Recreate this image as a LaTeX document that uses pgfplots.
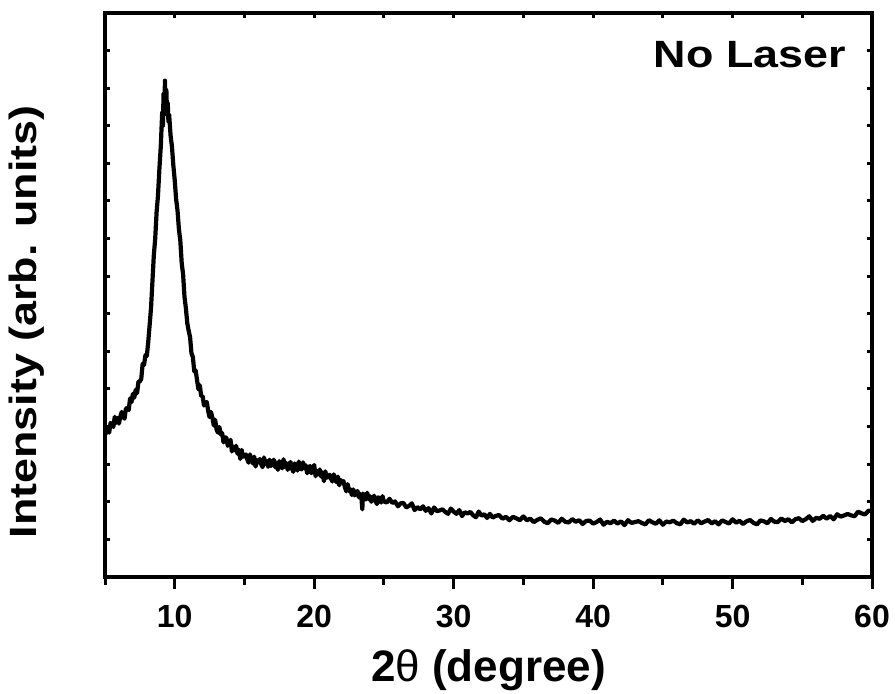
\documentclass[border=0pt]{standalone}
\usepackage{fontspec}
\setmainfont{Liberation Sans}
\newfontfamily\widefont[FakeStretch=1.18]{Liberation Sans}
\usepackage{pgfplots}
\pgfplotsset{compat=1.18}

\begin{document}
\begin{tikzpicture}
% 1px of the reference = 0.5pt
\pgfplotsset{
  xrdframe/.style={
    width=383.5pt, height=282pt, scale only axis,
    xmin=5, xmax=60, ymin=0, ymax=15,
    axis line style={line width=1.9pt, line cap=rect},
    every tick/.style={black, line width=1.5pt},
  }
}
% bottom ticks (outside) with labels, data
\begin{axis}[xrdframe,
    xtick={10,20,...,60}, minor xtick={5,15,...,55},
    xtick pos=left, tick align=outside,
    major tick length=6pt, minor tick length=4pt,
    ytick=\empty,
    /pgf/number format/assume math mode=true,
    xticklabel style={font=\fontsize{16}{16}\selectfont\bfseries, anchor=base, yshift=-19pt},
    xlabel={\fontsize{22}{22}\selectfont\bfseries 2{\mdseries θ} (degree)},
    xlabel style={at={(rel axis cs:0.5,-0.186)}, anchor=base},
    ylabel={\widefont\fontsize{19}{19}\selectfont\bfseries Intensity (arb. units)},
    every axis y label/.style={at={(rel axis cs:-0.0887,0.452)}, rotate=90, anchor=base},
  ]
\addplot[black, line width=2.1pt, line join=round] coordinates {
(5.0,3.97) (5.1,3.82) (5.2,3.97) (5.3,3.84) (5.4,4.10) (5.5,4.05) (5.6,3.99) (5.7,4.26) (5.8,4.10) (5.9,4.23)
(6.0,4.08) (6.1,4.27) (6.2,4.39) (6.3,4.26) (6.4,4.21) (6.5,4.48) (6.6,4.49) (6.7,4.44) (6.8,4.75) (6.9,4.65)
(7.0,4.87) (7.1,4.77) (7.2,4.98) (7.3,4.89) (7.4,5.20) (7.5,5.20) (7.6,5.27) (7.7,5.67) (7.8,5.64) (7.9,5.90)
(8.0,5.88) (8.1,6.25) (8.2,6.70) (8.3,7.15) (8.4,7.85) (8.5,8.55) (8.6,9.00) (8.7,9.70) (8.8,10.15) (8.9,10.85)
(9.0,11.45) (9.1,12.35) (9.15,12.0) (9.2,12.85) (9.25,12.3) (9.3,13.2) (9.35,12.4) (9.4,12.95) (9.45,12.3) (9.5,12.6)
(9.55,12.1) (9.6,12.3) (9.7,11.75) (9.8,11.45) (9.9,10.95) (10.0,10.55) (10.1,10.05) (10.2,9.75) (10.3,9.25) (10.4,8.95)
(10.5,8.35) (10.6,8.05) (10.7,7.45) (10.8,7.15) (10.9,6.75) (11.0,6.55)
(11.1,6.38) (11.2,5.95) (11.3,5.85) (11.4,5.47) (11.5,5.49) (11.6,5.24) (11.7,4.99) (11.8,5.10) (11.9,4.81) (12.0,4.81)
(12.1,4.56) (12.2,4.64) (12.3,4.65) (12.4,4.41) (12.5,4.25) (12.6,4.39) (12.7,4.24) (12.8,4.03) (12.9,4.18) (13.0,3.92)
(13.1,3.84) (13.2,3.99) (13.3,3.79) (13.4,3.83) (13.5,3.58) (13.6,3.71) (13.7,3.71) (13.8,3.49) (13.9,3.54) (14.0,3.65)
(14.1,3.34) (14.2,3.47) (14.3,3.37) (14.4,3.49) (14.5,3.28) (14.6,3.38) (14.7,3.14) (14.8,3.38) (14.9,3.20) (15.0,3.22)
(15.1,3.26) (15.2,3.13) (15.3,3.04) (15.4,3.26) (15.5,3.12) (15.6,3.02) (15.7,3.20) (15.8,2.94) (15.9,3.11) (16.0,3.05)
(16.1,3.14) (16.2,3.00) (16.3,2.92) (16.4,3.18) (16.5,3.01) (16.6,3.08) (16.7,2.93) (16.8,3.12) (16.9,2.95) (17.0,3.03)
(17.1,3.12) (17.2,2.92) (17.3,3.04) (17.4,2.85) (17.5,3.08) (17.6,2.98) (17.7,2.89) (17.8,3.13) (17.9,2.93) (18.0,3.03)
(18.1,2.85) (18.2,2.99) (18.3,3.06) (18.4,2.89) (18.5,2.80) (18.6,3.02) (18.7,2.96) (18.8,2.83) (18.9,3.07) (19.0,2.90)
(19.1,2.86) (19.2,3.05) (19.3,2.89) (19.4,2.97) (19.5,2.76) (19.6,2.92) (19.7,2.95) (19.8,2.76) (19.9,2.84) (20.0,2.98)
(20.1,2.68) (20.2,2.82) (20.3,2.73) (20.4,2.86) (20.5,2.67) (20.6,2.78) (20.7,2.55) (20.8,2.81) (20.9,2.64) (21.0,2.67)
(21.1,2.72) (21.2,2.62) (21.3,2.54) (21.4,2.73) (21.5,2.61) (21.6,2.52) (21.7,2.67) (21.8,2.44) (21.9,2.58) (22.0,2.52)
(22.1,2.55) (22.2,2.39) (22.3,2.28) (22.4,2.47) (22.5,2.29) (22.6,2.33) (22.7,2.18) (22.8,2.33) (22.9,2.17) (23.0,2.23)
(23.1,2.29) (23.2,2.12) (23.3,2.21) (23.4,2.05) (23.45,1.80) (23.5,2.22) (23.6,2.14) (23.7,2.06) (23.8,2.24) (23.9,2.07) (24.0,2.15)
(24.1,2.00) (24.2,2.11) (24.3,2.16) (24.4,2.02) (24.5,1.94) (24.6,2.12) (24.7,2.07) (24.8,1.98) (24.9,2.15) (25.0,2.01)
(25.2,1.98) (25.4,2.08) (25.6,1.97) (25.8,2.01) (26.0,1.88) (26.2,1.96) (26.4,1.97) (26.6,1.85) (26.8,1.89) (27.0,1.96)
(27.2,1.78) (27.4,1.86) (27.6,1.80) (27.8,1.88) (28.0,1.76) (28.2,1.83) (28.4,1.69) (28.6,1.85) (28.8,1.75) (29.0,1.77)
(29.2,1.80) (29.4,1.73) (29.6,1.68) (29.8,1.82) (30.0,1.74) (30.2,1.68) (30.4,1.78) (30.6,1.62) (30.8,1.72) (31.0,1.69)
(31.2,1.73) (31.4,1.64) (31.6,1.59) (31.8,1.74) (32.0,1.63) (32.2,1.67) (32.4,1.57) (32.6,1.68) (32.8,1.58) (33.0,1.62)
(33.25,1.65) (33.5,1.55) (33.75,1.60) (34.0,1.51) (34.25,1.60) (34.5,1.56) (34.75,1.51) (35.0,1.61) (35.25,1.51) (35.5,1.55)
(35.75,1.46) (36.0,1.52) (36.25,1.56) (36.5,1.47) (36.75,1.43) (37.0,1.53) (37.25,1.50) (37.5,1.44) (37.75,1.55) (38.0,1.47)
(38.25,1.45) (38.5,1.54) (38.75,1.47) (39.0,1.51) (39.25,1.41) (39.5,1.49) (39.75,1.50) (40.0,1.42) (40.25,1.46) (40.5,1.53)
(40.75,1.39) (41.0,1.47) (41.25,1.43) (41.5,1.50) (41.75,1.42) (42.0,1.48) (42.25,1.38) (42.5,1.51) (42.75,1.44) (43.0,1.46)
(43.25,1.485) (43.5,1.436) (43.75,1.40) (44.0,1.51) (44.25,1.457) (44.5,1.416) (44.75,1.507) (45.0,1.39) (45.25,1.475) (45.5,1.455)
(45.75,1.498) (46.0,1.434) (46.25,1.40) (46.5,1.526) (46.75,1.45) (47.0,1.485) (47.25,1.415) (47.5,1.507) (47.75,1.43) (48.0,1.474)
(48.25,1.516) (48.5,1.426) (48.75,1.483) (49.0,1.40) (49.25,1.505) (49.5,1.464) (49.75,1.423) (50.0,1.535) (50.25,1.445) (50.5,1.494)
(50.75,1.411) (51.0,1.481) (51.25,1.517) (51.5,1.441) (51.75,1.40) (52.0,1.505) (52.25,1.481) (52.5,1.429) (52.75,1.544) (53.0,1.471)
(53.25,1.461) (53.5,1.556) (53.75,1.489) (54.0,1.535) (54.25,1.452) (54.5,1.536) (54.75,1.565) (55.0,1.488) (55.25,1.538) (55.5,1.615)
(55.75,1.49) (56.0,1.574) (56.25,1.548) (56.5,1.627) (56.75,1.551) (57.0,1.623) (57.25,1.534) (57.5,1.669) (57.75,1.607) (58.0,1.637)
(58.25,1.676) (58.5,1.639) (58.75,1.615) (59.0,1.738) (59.25,1.693) (59.5,1.663) (59.75,1.765) (60.0,1.76)
};
\node[anchor=base east, font=\widefont\fontsize{19}{19}\selectfont\bfseries] at (rel axis cs:0.975,0.904) {No Laser};
\coordinate (sw) at (rel axis cs:0,0);
\coordinate (ne) at (rel axis cs:1,1);
\end{axis}
% top ticks and left/right ticks (inside, short)
\begin{axis}[xrdframe,
    xtick={10,20,...,60}, minor xtick={5,15,...,55},
    xtick pos=right, ytick={0,1,...,15}, ytick pos=both,
    tick align=inside, major tick length=2.5pt, minor tick length=2.5pt,
    xticklabels={}, yticklabels={},
  ]
\end{axis}
\pgfresetboundingbox
\path[use as bounding box] ([shift={(-52.5pt,-58pt)}]sw) rectangle ([shift={(11.5pt,6.5pt)}]ne);
\end{tikzpicture}
\end{document}
